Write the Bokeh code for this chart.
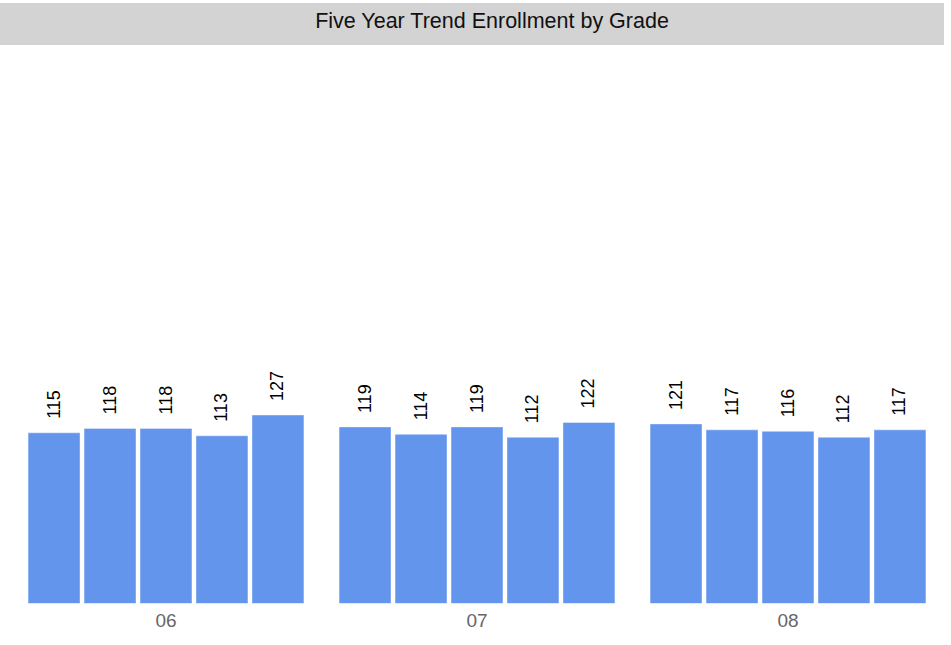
import math
from bokeh.plotting import figure
from bokeh.models import ColumnDataSource, FactorRange, Range1d, Div
from bokeh.layouts import column
from bokeh.transform import dodge
from bokeh.core.properties import value
from bokeh.embed import file_html
from bokeh.resources import INLINE

title_text = "Five Year Trend Enrollment by Grade"
grades = ["06", "07", "08"]
years = ["Year 1", "Year 2", "Year 3", "Year 4", "Year 5"]
year1 = [115, 119, 121]
year2 = [118, 114, 117]
year3 = [118, 119, 116]
year4 = [113, 112, 112]
year5 = [127, 122, 117]
series = [year1, year2, year3, year4, year5]

data = {"grade": grades}
for name, vals in zip(years, series):
    data[name] = vals
    data[name + "_lbl"] = [str(v) for v in vals]
source = ColumnDataSource(data)

title = Div(text=title_text, width=944, height=42, margin=(3, 0, 0, 0),
            styles={"background-color": "#d3d3d3", "text-align": "center",
                    "font-family": "Liberation Sans, Arial, sans-serif",
                    "font-size": "21.5px", "line-height": "36px",
                    "text-indent": "40px",
                    "color": "#111111", "width": "944px"})

p = figure(x_range=FactorRange(factors=grades), y_range=Range1d(0, 376),
           frame_width=933, frame_height=558, output_backend="svg",
           toolbar_location=None, min_border=0)
p.min_border_left = 10
p.min_border_right = 1
p.min_border_bottom = 30

slot = 0.18
for i, name in enumerate(years):
    off = (i - 2) * slot
    p.vbar(x=dodge("grade", off, range=p.x_range), top=name, width=0.167,
           bottom=0, source=source, fill_color="#6495ED",
           line_color="white", line_alpha=0.4, line_width=1)
    p.text(x=dodge("grade", off, range=p.x_range), y=name, text=name + "_lbl",
           source=source, angle=math.pi / 2, text_align="left",
           text_baseline="middle", y_offset=-14, x_offset=-1,
           text_font=value("Liberation Sans"), text_font_size="18px",
           text_color="black")

p.yaxis.visible = False
p.xgrid.visible = False
p.ygrid.visible = False
p.outline_line_color = None
p.xaxis.axis_line_color = None
p.xaxis.major_tick_line_color = None
p.xaxis.minor_tick_line_color = None
p.xaxis.major_label_standoff = 4
p.xaxis.major_label_text_font = "Liberation Sans"
p.xaxis.major_label_text_font_size = "19px"
p.xaxis.major_label_text_color = "#666666"

layout = column(title, p, spacing=0)
open("out.html", "w").write(file_html(layout, INLINE))
